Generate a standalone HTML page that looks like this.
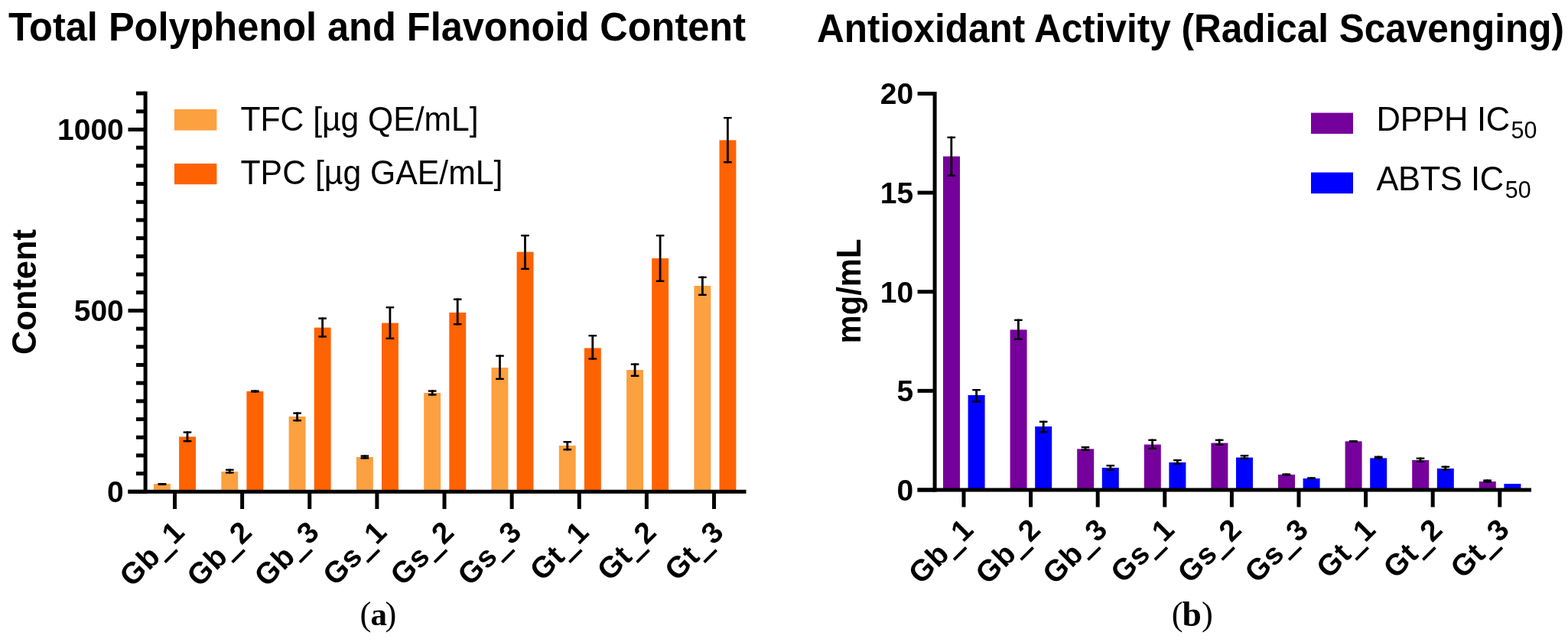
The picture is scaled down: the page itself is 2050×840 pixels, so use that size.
<!DOCTYPE html>
<html lang="en"><head><meta charset="utf-8"><title>Total Polyphenol and Flavonoid Content / Antioxidant Activity</title>
<style>html,body{margin:0;padding:0;background:#fff}body{width:2050px;height:840px;overflow:hidden}svg{display:block}text{fill:#000}</style>
</head><body>
<svg width="2050" height="840" viewBox="0 0 2050 840" role="img" aria-label="Bar charts: total polyphenol and flavonoid content; antioxidant activity">
<rect x="0" y="0" width="2050" height="840" fill="#ffffff"/>
<text x="11.00" y="53.20" font-family="'Liberation Sans', sans-serif" font-size="51px" font-weight="bold" text-anchor="start" textLength="964.00" lengthAdjust="spacingAndGlyphs">Total Polyphenol and Flavonoid Content</text>
<text x="1068.00" y="55.00" font-family="'Liberation Sans', sans-serif" font-size="51px" font-weight="bold" text-anchor="start" textLength="977.00" lengthAdjust="spacingAndGlyphs">Antioxidant Activity (Radical Scavenging)</text>
<g id="left-bars">
<rect x="201.00" y="633.00" width="21.90" height="10.30" fill="#FDA03F"/>
<rect x="234.10" y="571.40" width="21.90" height="71.90" fill="#FF6201"/>
<rect x="289.30" y="617.00" width="21.90" height="26.30" fill="#FDA03F"/>
<rect x="322.40" y="512.00" width="21.90" height="131.30" fill="#FF6201"/>
<rect x="377.60" y="545.00" width="21.90" height="98.30" fill="#FDA03F"/>
<rect x="410.70" y="428.60" width="21.90" height="214.70" fill="#FF6201"/>
<rect x="465.90" y="598.00" width="21.90" height="45.30" fill="#FDA03F"/>
<rect x="499.00" y="422.60" width="21.90" height="220.70" fill="#FF6201"/>
<rect x="554.20" y="514.00" width="21.90" height="129.30" fill="#FDA03F"/>
<rect x="587.30" y="409.00" width="21.90" height="234.30" fill="#FF6201"/>
<rect x="642.50" y="481.00" width="21.90" height="162.30" fill="#FDA03F"/>
<rect x="675.60" y="329.60" width="21.90" height="313.70" fill="#FF6201"/>
<rect x="730.80" y="583.00" width="21.90" height="60.30" fill="#FDA03F"/>
<rect x="763.90" y="455.40" width="21.90" height="187.90" fill="#FF6201"/>
<rect x="819.10" y="484.00" width="21.90" height="159.30" fill="#FDA03F"/>
<rect x="852.20" y="338.00" width="21.90" height="305.30" fill="#FF6201"/>
<rect x="907.40" y="374.00" width="21.90" height="269.30" fill="#FDA03F"/>
<rect x="940.50" y="183.40" width="21.90" height="459.90" fill="#FF6201"/>
<rect x="210.60" y="632.00" width="2.80" height="3.00" fill="#000"/>
<rect x="206.70" y="632.00" width="10.60" height="2.40" fill="#000"/>
<rect x="206.70" y="632.60" width="10.60" height="2.40" fill="#000"/>
<rect x="243.60" y="564.40" width="2.80" height="14.00" fill="#000"/>
<rect x="239.70" y="564.40" width="10.60" height="2.40" fill="#000"/>
<rect x="239.70" y="576.00" width="10.60" height="2.40" fill="#000"/>
<rect x="298.90" y="613.60" width="2.80" height="6.00" fill="#000"/>
<rect x="295.00" y="613.60" width="10.60" height="2.40" fill="#000"/>
<rect x="295.00" y="617.20" width="10.60" height="2.40" fill="#000"/>
<rect x="331.90" y="510.40" width="2.80" height="3.20" fill="#000"/>
<rect x="328.00" y="510.40" width="10.60" height="2.40" fill="#000"/>
<rect x="328.00" y="511.20" width="10.60" height="2.40" fill="#000"/>
<rect x="387.20" y="539.40" width="2.80" height="12.00" fill="#000"/>
<rect x="383.30" y="539.40" width="10.60" height="2.40" fill="#000"/>
<rect x="383.30" y="549.00" width="10.60" height="2.40" fill="#000"/>
<rect x="420.20" y="415.40" width="2.80" height="26.20" fill="#000"/>
<rect x="416.30" y="415.40" width="10.60" height="2.40" fill="#000"/>
<rect x="416.30" y="439.20" width="10.60" height="2.40" fill="#000"/>
<rect x="475.50" y="595.40" width="2.80" height="5.20" fill="#000"/>
<rect x="471.60" y="595.40" width="10.60" height="2.40" fill="#000"/>
<rect x="471.60" y="598.20" width="10.60" height="2.40" fill="#000"/>
<rect x="508.50" y="401.00" width="2.80" height="43.00" fill="#000"/>
<rect x="504.60" y="401.00" width="10.60" height="2.40" fill="#000"/>
<rect x="504.60" y="441.60" width="10.60" height="2.40" fill="#000"/>
<rect x="563.80" y="510.40" width="2.80" height="7.20" fill="#000"/>
<rect x="559.90" y="510.40" width="10.60" height="2.40" fill="#000"/>
<rect x="559.90" y="515.20" width="10.60" height="2.40" fill="#000"/>
<rect x="596.80" y="390.40" width="2.80" height="35.00" fill="#000"/>
<rect x="592.90" y="390.40" width="10.60" height="2.40" fill="#000"/>
<rect x="592.90" y="423.00" width="10.60" height="2.40" fill="#000"/>
<rect x="652.10" y="464.40" width="2.80" height="32.60" fill="#000"/>
<rect x="648.20" y="464.40" width="10.60" height="2.40" fill="#000"/>
<rect x="648.20" y="494.60" width="10.60" height="2.40" fill="#000"/>
<rect x="685.10" y="307.00" width="2.80" height="46.00" fill="#000"/>
<rect x="681.20" y="307.00" width="10.60" height="2.40" fill="#000"/>
<rect x="681.20" y="350.60" width="10.60" height="2.40" fill="#000"/>
<rect x="740.40" y="577.00" width="2.80" height="12.40" fill="#000"/>
<rect x="736.50" y="577.00" width="10.60" height="2.40" fill="#000"/>
<rect x="736.50" y="587.00" width="10.60" height="2.40" fill="#000"/>
<rect x="773.40" y="438.00" width="2.80" height="32.60" fill="#000"/>
<rect x="769.50" y="438.00" width="10.60" height="2.40" fill="#000"/>
<rect x="769.50" y="468.20" width="10.60" height="2.40" fill="#000"/>
<rect x="828.70" y="475.40" width="2.80" height="17.60" fill="#000"/>
<rect x="824.80" y="475.40" width="10.60" height="2.40" fill="#000"/>
<rect x="824.80" y="490.60" width="10.60" height="2.40" fill="#000"/>
<rect x="861.70" y="307.00" width="2.80" height="62.00" fill="#000"/>
<rect x="857.80" y="307.00" width="10.60" height="2.40" fill="#000"/>
<rect x="857.80" y="366.60" width="10.60" height="2.40" fill="#000"/>
<rect x="917.00" y="361.60" width="2.80" height="25.40" fill="#000"/>
<rect x="913.10" y="361.60" width="10.60" height="2.40" fill="#000"/>
<rect x="913.10" y="384.60" width="10.60" height="2.40" fill="#000"/>
<rect x="950.00" y="153.00" width="2.80" height="60.40" fill="#000"/>
<rect x="946.10" y="153.00" width="10.60" height="2.40" fill="#000"/>
<rect x="946.10" y="211.00" width="10.60" height="2.40" fill="#000"/>
</g>
<g id="left-axes" fill="#000">
<rect x="187.60" y="119.60" width="5.00" height="526.20" fill="#000"/>
<rect x="167.50" y="640.80" width="808.00" height="5.00" fill="#000"/>
<rect x="167.50" y="640.80" width="22.60" height="5.00" fill="#000"/>
<rect x="178.00" y="617.11" width="12.10" height="5.00" fill="#000"/>
<rect x="178.00" y="593.42" width="12.10" height="5.00" fill="#000"/>
<rect x="178.00" y="569.73" width="12.10" height="5.00" fill="#000"/>
<rect x="178.00" y="546.04" width="12.10" height="5.00" fill="#000"/>
<rect x="178.00" y="522.35" width="12.10" height="5.00" fill="#000"/>
<rect x="178.00" y="498.66" width="12.10" height="5.00" fill="#000"/>
<rect x="178.00" y="474.97" width="12.10" height="5.00" fill="#000"/>
<rect x="178.00" y="451.28" width="12.10" height="5.00" fill="#000"/>
<rect x="178.00" y="427.59" width="12.10" height="5.00" fill="#000"/>
<rect x="167.50" y="403.90" width="22.60" height="5.00" fill="#000"/>
<rect x="178.00" y="380.21" width="12.10" height="5.00" fill="#000"/>
<rect x="178.00" y="356.52" width="12.10" height="5.00" fill="#000"/>
<rect x="178.00" y="332.83" width="12.10" height="5.00" fill="#000"/>
<rect x="178.00" y="309.14" width="12.10" height="5.00" fill="#000"/>
<rect x="178.00" y="285.45" width="12.10" height="5.00" fill="#000"/>
<rect x="178.00" y="261.76" width="12.10" height="5.00" fill="#000"/>
<rect x="178.00" y="238.07" width="12.10" height="5.00" fill="#000"/>
<rect x="178.00" y="214.38" width="12.10" height="5.00" fill="#000"/>
<rect x="178.00" y="190.69" width="12.10" height="5.00" fill="#000"/>
<rect x="167.50" y="167.00" width="22.60" height="5.00" fill="#000"/>
<rect x="178.00" y="143.31" width="12.10" height="5.00" fill="#000"/>
<rect x="178.00" y="119.62" width="12.10" height="5.00" fill="#000"/>
<rect x="226.00" y="643.30" width="5.00" height="22.70" fill="#000"/>
<rect x="314.13" y="643.30" width="5.00" height="22.70" fill="#000"/>
<rect x="402.26" y="643.30" width="5.00" height="22.70" fill="#000"/>
<rect x="490.39" y="643.30" width="5.00" height="22.70" fill="#000"/>
<rect x="578.52" y="643.30" width="5.00" height="22.70" fill="#000"/>
<rect x="666.65" y="643.30" width="5.00" height="22.70" fill="#000"/>
<rect x="754.78" y="643.30" width="5.00" height="22.70" fill="#000"/>
<rect x="842.91" y="643.30" width="5.00" height="22.70" fill="#000"/>
<rect x="931.04" y="643.30" width="5.00" height="22.70" fill="#000"/>
</g>
<text x="161.80" y="183.40" font-family="'Liberation Sans', sans-serif" font-size="39px" font-weight="bold" text-anchor="end">1000</text>
<text x="161.80" y="420.30" font-family="'Liberation Sans', sans-serif" font-size="39px" font-weight="bold" text-anchor="end">500</text>
<text x="161.80" y="657.20" font-family="'Liberation Sans', sans-serif" font-size="39px" font-weight="bold" text-anchor="end">0</text>
<text x="47.00" y="382.00" font-family="'Liberation Sans', sans-serif" font-size="44px" font-weight="bold" text-anchor="middle" textLength="164.00" lengthAdjust="spacingAndGlyphs" transform="rotate(-90 47.00 382.00)">Content</text>
<text x="243.70" y="698.20" font-family="'Liberation Sans', sans-serif" font-size="39px" font-weight="bold" text-anchor="end" letter-spacing="0.8" transform="rotate(-45 243.70 698.20)">Gb<tspan font-size="35px" stroke="#000" stroke-width="2.5" dx="0.2" dy="3.1">_</tspan><tspan dx="2.0" dy="-3.1">1</tspan></text>
<text x="331.83" y="698.20" font-family="'Liberation Sans', sans-serif" font-size="39px" font-weight="bold" text-anchor="end" letter-spacing="0.8" transform="rotate(-45 331.83 698.20)">Gb<tspan font-size="35px" stroke="#000" stroke-width="2.5" dx="0.2" dy="3.1">_</tspan><tspan dx="2.0" dy="-3.1">2</tspan></text>
<text x="419.96" y="698.20" font-family="'Liberation Sans', sans-serif" font-size="39px" font-weight="bold" text-anchor="end" letter-spacing="0.8" transform="rotate(-45 419.96 698.20)">Gb<tspan font-size="35px" stroke="#000" stroke-width="2.5" dx="0.2" dy="3.1">_</tspan><tspan dx="2.0" dy="-3.1">3</tspan></text>
<text x="508.09" y="698.20" font-family="'Liberation Sans', sans-serif" font-size="39px" font-weight="bold" text-anchor="end" letter-spacing="0.8" transform="rotate(-45 508.09 698.20)">Gs<tspan font-size="35px" stroke="#000" stroke-width="2.5" dx="0.2" dy="3.1">_</tspan><tspan dx="2.0" dy="-3.1">1</tspan></text>
<text x="596.22" y="698.20" font-family="'Liberation Sans', sans-serif" font-size="39px" font-weight="bold" text-anchor="end" letter-spacing="0.8" transform="rotate(-45 596.22 698.20)">Gs<tspan font-size="35px" stroke="#000" stroke-width="2.5" dx="0.2" dy="3.1">_</tspan><tspan dx="2.0" dy="-3.1">2</tspan></text>
<text x="684.35" y="698.20" font-family="'Liberation Sans', sans-serif" font-size="39px" font-weight="bold" text-anchor="end" letter-spacing="0.8" transform="rotate(-45 684.35 698.20)">Gs<tspan font-size="35px" stroke="#000" stroke-width="2.5" dx="0.2" dy="3.1">_</tspan><tspan dx="2.0" dy="-3.1">3</tspan></text>
<text x="772.48" y="698.20" font-family="'Liberation Sans', sans-serif" font-size="39px" font-weight="bold" text-anchor="end" letter-spacing="0.8" transform="rotate(-45 772.48 698.20)">Gt<tspan font-size="35px" stroke="#000" stroke-width="2.5" dx="0.2" dy="3.1">_</tspan><tspan dx="2.0" dy="-3.1">1</tspan></text>
<text x="860.61" y="698.20" font-family="'Liberation Sans', sans-serif" font-size="39px" font-weight="bold" text-anchor="end" letter-spacing="0.8" transform="rotate(-45 860.61 698.20)">Gt<tspan font-size="35px" stroke="#000" stroke-width="2.5" dx="0.2" dy="3.1">_</tspan><tspan dx="2.0" dy="-3.1">2</tspan></text>
<text x="948.74" y="698.20" font-family="'Liberation Sans', sans-serif" font-size="39px" font-weight="bold" text-anchor="end" letter-spacing="0.8" transform="rotate(-45 948.74 698.20)">Gt<tspan font-size="35px" stroke="#000" stroke-width="2.5" dx="0.2" dy="3.1">_</tspan><tspan dx="2.0" dy="-3.1">3</tspan></text>
<rect x="228.00" y="143.00" width="55.40" height="27.60" fill="#FDA03F"/>
<rect x="228.00" y="214.00" width="55.40" height="27.20" fill="#FF6201"/>
<text x="314.50" y="170.60" font-family="'Liberation Sans', sans-serif" font-size="43.5px" font-weight="normal" text-anchor="start" textLength="311.00" lengthAdjust="spacingAndGlyphs">TFC [µg QE/mL]</text>
<text x="314.50" y="241.00" font-family="'Liberation Sans', sans-serif" font-size="43.5px" font-weight="normal" text-anchor="start" textLength="343.00" lengthAdjust="spacingAndGlyphs">TPC [µg GAE/mL]</text>
<text font-family="'Liberation Serif', serif" font-size="44.5px"><tspan x="470.6" y="818.0">(</tspan><tspan x="484.4" y="818.0" font-size="43px" font-weight="bold">a</tspan><tspan x="503.6" y="818.0">)</tspan></text>
<g id="right-bars">
<rect x="1233.00" y="204.60" width="22.00" height="436.40" fill="#76009C"/>
<rect x="1265.60" y="517.00" width="22.00" height="124.00" fill="#0000FF"/>
<rect x="1320.60" y="431.40" width="22.00" height="209.60" fill="#76009C"/>
<rect x="1353.20" y="558.00" width="22.00" height="83.00" fill="#0000FF"/>
<rect x="1408.20" y="587.40" width="22.00" height="53.60" fill="#76009C"/>
<rect x="1440.80" y="612.00" width="22.00" height="29.00" fill="#0000FF"/>
<rect x="1495.80" y="581.60" width="22.00" height="59.40" fill="#76009C"/>
<rect x="1528.40" y="605.00" width="22.00" height="36.00" fill="#0000FF"/>
<rect x="1583.40" y="579.60" width="22.00" height="61.40" fill="#76009C"/>
<rect x="1616.00" y="598.60" width="22.00" height="42.40" fill="#0000FF"/>
<rect x="1671.00" y="621.00" width="22.00" height="20.00" fill="#76009C"/>
<rect x="1703.60" y="626.00" width="22.00" height="15.00" fill="#0000FF"/>
<rect x="1758.60" y="577.40" width="22.00" height="63.60" fill="#76009C"/>
<rect x="1791.20" y="599.40" width="22.00" height="41.60" fill="#0000FF"/>
<rect x="1846.20" y="602.00" width="22.00" height="39.00" fill="#76009C"/>
<rect x="1878.80" y="613.00" width="22.00" height="28.00" fill="#0000FF"/>
<rect x="1933.80" y="630.00" width="22.00" height="11.00" fill="#76009C"/>
<rect x="1966.40" y="633.00" width="22.00" height="8.00" fill="#0000FF"/>
<rect x="1242.40" y="178.60" width="2.80" height="52.40" fill="#000"/>
<rect x="1238.50" y="178.60" width="10.60" height="2.40" fill="#000"/>
<rect x="1238.50" y="228.60" width="10.60" height="2.40" fill="#000"/>
<rect x="1275.20" y="509.00" width="2.80" height="17.60" fill="#000"/>
<rect x="1271.30" y="509.00" width="10.60" height="2.40" fill="#000"/>
<rect x="1271.30" y="524.20" width="10.60" height="2.40" fill="#000"/>
<rect x="1330.00" y="417.60" width="2.80" height="27.40" fill="#000"/>
<rect x="1326.10" y="417.60" width="10.60" height="2.40" fill="#000"/>
<rect x="1326.10" y="442.60" width="10.60" height="2.40" fill="#000"/>
<rect x="1362.80" y="550.60" width="2.80" height="15.80" fill="#000"/>
<rect x="1358.90" y="550.60" width="10.60" height="2.40" fill="#000"/>
<rect x="1358.90" y="564.00" width="10.60" height="2.40" fill="#000"/>
<rect x="1417.60" y="584.00" width="2.80" height="6.00" fill="#000"/>
<rect x="1413.70" y="584.00" width="10.60" height="2.40" fill="#000"/>
<rect x="1413.70" y="587.60" width="10.60" height="2.40" fill="#000"/>
<rect x="1450.40" y="608.00" width="2.80" height="8.00" fill="#000"/>
<rect x="1446.50" y="608.00" width="10.60" height="2.40" fill="#000"/>
<rect x="1446.50" y="613.60" width="10.60" height="2.40" fill="#000"/>
<rect x="1505.20" y="574.60" width="2.80" height="13.40" fill="#000"/>
<rect x="1501.30" y="574.60" width="10.60" height="2.40" fill="#000"/>
<rect x="1501.30" y="585.60" width="10.60" height="2.40" fill="#000"/>
<rect x="1538.00" y="601.00" width="2.80" height="7.00" fill="#000"/>
<rect x="1534.10" y="601.00" width="10.60" height="2.40" fill="#000"/>
<rect x="1534.10" y="605.60" width="10.60" height="2.40" fill="#000"/>
<rect x="1592.80" y="574.60" width="2.80" height="8.40" fill="#000"/>
<rect x="1588.90" y="574.60" width="10.60" height="2.40" fill="#000"/>
<rect x="1588.90" y="580.60" width="10.60" height="2.40" fill="#000"/>
<rect x="1625.60" y="595.00" width="2.80" height="6.00" fill="#000"/>
<rect x="1621.70" y="595.00" width="10.60" height="2.40" fill="#000"/>
<rect x="1621.70" y="598.60" width="10.60" height="2.40" fill="#000"/>
<rect x="1680.40" y="619.40" width="2.80" height="3.00" fill="#000"/>
<rect x="1676.50" y="619.40" width="10.60" height="2.40" fill="#000"/>
<rect x="1676.50" y="620.00" width="10.60" height="2.40" fill="#000"/>
<rect x="1713.20" y="624.40" width="2.80" height="2.60" fill="#000"/>
<rect x="1709.30" y="624.40" width="10.60" height="2.40" fill="#000"/>
<rect x="1709.30" y="624.60" width="10.60" height="2.40" fill="#000"/>
<rect x="1768.00" y="576.40" width="2.80" height="2.20" fill="#000"/>
<rect x="1764.10" y="576.40" width="10.60" height="2.40" fill="#000"/>
<rect x="1764.10" y="576.20" width="10.60" height="2.40" fill="#000"/>
<rect x="1800.80" y="596.60" width="2.80" height="4.00" fill="#000"/>
<rect x="1796.90" y="596.60" width="10.60" height="2.40" fill="#000"/>
<rect x="1796.90" y="598.20" width="10.60" height="2.40" fill="#000"/>
<rect x="1855.60" y="598.60" width="2.80" height="6.40" fill="#000"/>
<rect x="1851.70" y="598.60" width="10.60" height="2.40" fill="#000"/>
<rect x="1851.70" y="602.60" width="10.60" height="2.40" fill="#000"/>
<rect x="1888.40" y="609.60" width="2.80" height="6.00" fill="#000"/>
<rect x="1884.50" y="609.60" width="10.60" height="2.40" fill="#000"/>
<rect x="1884.50" y="613.20" width="10.60" height="2.40" fill="#000"/>
<rect x="1943.20" y="627.40" width="2.80" height="4.20" fill="#000"/>
<rect x="1939.30" y="627.40" width="10.60" height="2.40" fill="#000"/>
<rect x="1939.30" y="629.20" width="10.60" height="2.40" fill="#000"/>
</g>
<g id="right-axes" fill="#000">
<rect x="1219.60" y="120.00" width="5.00" height="523.50" fill="#000"/>
<rect x="1199.60" y="638.50" width="802.40" height="5.00" fill="#000"/>
<rect x="1199.60" y="638.50" width="22.50" height="5.00" fill="#000"/>
<rect x="1199.60" y="508.88" width="22.50" height="5.00" fill="#000"/>
<rect x="1199.60" y="379.25" width="22.50" height="5.00" fill="#000"/>
<rect x="1199.60" y="249.62" width="22.50" height="5.00" fill="#000"/>
<rect x="1199.60" y="120.00" width="22.50" height="5.00" fill="#000"/>
<rect x="1257.50" y="641.00" width="5.00" height="22.50" fill="#000"/>
<rect x="1345.10" y="641.00" width="5.00" height="22.50" fill="#000"/>
<rect x="1432.70" y="641.00" width="5.00" height="22.50" fill="#000"/>
<rect x="1520.30" y="641.00" width="5.00" height="22.50" fill="#000"/>
<rect x="1607.90" y="641.00" width="5.00" height="22.50" fill="#000"/>
<rect x="1695.50" y="641.00" width="5.00" height="22.50" fill="#000"/>
<rect x="1783.10" y="641.00" width="5.00" height="22.50" fill="#000"/>
<rect x="1870.70" y="641.00" width="5.00" height="22.50" fill="#000"/>
<rect x="1958.30" y="641.00" width="5.00" height="22.50" fill="#000"/>
</g>
<text x="1194.20" y="136.40" font-family="'Liberation Sans', sans-serif" font-size="39px" font-weight="bold" text-anchor="end">20</text>
<text x="1194.20" y="266.02" font-family="'Liberation Sans', sans-serif" font-size="39px" font-weight="bold" text-anchor="end">15</text>
<text x="1194.20" y="395.65" font-family="'Liberation Sans', sans-serif" font-size="39px" font-weight="bold" text-anchor="end">10</text>
<text x="1194.20" y="525.27" font-family="'Liberation Sans', sans-serif" font-size="39px" font-weight="bold" text-anchor="end">5</text>
<text x="1194.20" y="654.90" font-family="'Liberation Sans', sans-serif" font-size="39px" font-weight="bold" text-anchor="end">0</text>
<text x="1124.50" y="381.00" font-family="'Liberation Sans', sans-serif" font-size="43.5px" font-weight="bold" text-anchor="middle" textLength="137.00" lengthAdjust="spacingAndGlyphs" transform="rotate(-90 1124.50 381.00)">mg/mL</text>
<text x="1275.20" y="694.90" font-family="'Liberation Sans', sans-serif" font-size="39px" font-weight="bold" text-anchor="end" letter-spacing="0.8" transform="rotate(-45 1275.20 694.90)">Gb<tspan font-size="35px" stroke="#000" stroke-width="2.5" dx="0.2" dy="3.1">_</tspan><tspan dx="2.0" dy="-3.1">1</tspan></text>
<text x="1362.80" y="694.90" font-family="'Liberation Sans', sans-serif" font-size="39px" font-weight="bold" text-anchor="end" letter-spacing="0.8" transform="rotate(-45 1362.80 694.90)">Gb<tspan font-size="35px" stroke="#000" stroke-width="2.5" dx="0.2" dy="3.1">_</tspan><tspan dx="2.0" dy="-3.1">2</tspan></text>
<text x="1450.40" y="694.90" font-family="'Liberation Sans', sans-serif" font-size="39px" font-weight="bold" text-anchor="end" letter-spacing="0.8" transform="rotate(-45 1450.40 694.90)">Gb<tspan font-size="35px" stroke="#000" stroke-width="2.5" dx="0.2" dy="3.1">_</tspan><tspan dx="2.0" dy="-3.1">3</tspan></text>
<text x="1538.00" y="694.90" font-family="'Liberation Sans', sans-serif" font-size="39px" font-weight="bold" text-anchor="end" letter-spacing="0.8" transform="rotate(-45 1538.00 694.90)">Gs<tspan font-size="35px" stroke="#000" stroke-width="2.5" dx="0.2" dy="3.1">_</tspan><tspan dx="2.0" dy="-3.1">1</tspan></text>
<text x="1625.60" y="694.90" font-family="'Liberation Sans', sans-serif" font-size="39px" font-weight="bold" text-anchor="end" letter-spacing="0.8" transform="rotate(-45 1625.60 694.90)">Gs<tspan font-size="35px" stroke="#000" stroke-width="2.5" dx="0.2" dy="3.1">_</tspan><tspan dx="2.0" dy="-3.1">2</tspan></text>
<text x="1713.20" y="694.90" font-family="'Liberation Sans', sans-serif" font-size="39px" font-weight="bold" text-anchor="end" letter-spacing="0.8" transform="rotate(-45 1713.20 694.90)">Gs<tspan font-size="35px" stroke="#000" stroke-width="2.5" dx="0.2" dy="3.1">_</tspan><tspan dx="2.0" dy="-3.1">3</tspan></text>
<text x="1800.80" y="694.90" font-family="'Liberation Sans', sans-serif" font-size="39px" font-weight="bold" text-anchor="end" letter-spacing="0.8" transform="rotate(-45 1800.80 694.90)">Gt<tspan font-size="35px" stroke="#000" stroke-width="2.5" dx="0.2" dy="3.1">_</tspan><tspan dx="2.0" dy="-3.1">1</tspan></text>
<text x="1888.40" y="694.90" font-family="'Liberation Sans', sans-serif" font-size="39px" font-weight="bold" text-anchor="end" letter-spacing="0.8" transform="rotate(-45 1888.40 694.90)">Gt<tspan font-size="35px" stroke="#000" stroke-width="2.5" dx="0.2" dy="3.1">_</tspan><tspan dx="2.0" dy="-3.1">2</tspan></text>
<text x="1976.00" y="694.90" font-family="'Liberation Sans', sans-serif" font-size="39px" font-weight="bold" text-anchor="end" letter-spacing="0.8" transform="rotate(-45 1976.00 694.90)">Gt<tspan font-size="35px" stroke="#000" stroke-width="2.5" dx="0.2" dy="3.1">_</tspan><tspan dx="2.0" dy="-3.1">3</tspan></text>
<rect x="1714.00" y="147.60" width="55.00" height="27.40" fill="#76009C"/>
<rect x="1714.00" y="225.60" width="55.00" height="27.60" fill="#0000FF"/>
<text x="1799.5" y="171" font-family="'Liberation Sans', sans-serif" font-size="43.5px" letter-spacing="-0.28">DPPH IC<tspan font-size="30.5px" dy="10" dx="1.6" letter-spacing="0">50</tspan></text>
<text x="1799.5" y="249" font-family="'Liberation Sans', sans-serif" font-size="43.5px" letter-spacing="-0.43">ABTS IC<tspan font-size="30.5px" dy="10" dx="2.0" letter-spacing="0">50</tspan></text>
<text font-family="'Liberation Serif', serif" font-size="44.5px"><tspan x="1531.8" y="818.0">(</tspan><tspan x="1545.4" y="818.6" font-size="45.5px" font-weight="bold">b</tspan><tspan x="1571.0" y="818.0">)</tspan></text>
</svg>
</body></html>
